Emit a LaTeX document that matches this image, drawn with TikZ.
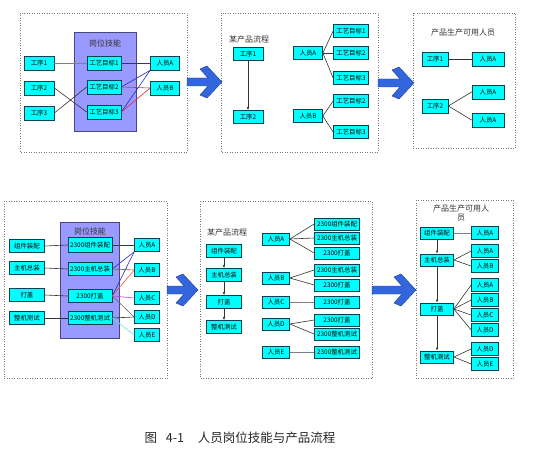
\documentclass[tikz,border=0pt]{standalone}
\usepackage{fontspec}
\setmainfont{Noto Sans CJK SC}
\usetikzlibrary{arrows.meta}
\definecolor{boxfill}{RGB}{0,255,255}
\definecolor{boxdraw}{RGB}{0,70,80}
\definecolor{skillfill}{RGB}{153,153,255}
\definecolor{skilldraw}{RGB}{70,70,130}
\definecolor{arrfill}{RGB}{51,102,221}
\definecolor{arrdraw}{RGB}{30,60,160}
\definecolor{lnblue}{RGB}{40,40,200}
\definecolor{lnred}{RGB}{220,40,60}
\definecolor{lnorange}{RGB}{230,90,60}
\definecolor{lnmag}{RGB}{210,60,210}
\definecolor{lncyan}{RGB}{100,230,230}
\definecolor{panelgray}{RGB}{120,120,120}
\tikzset{
  bx/.style 2 args={draw=boxdraw, fill=boxfill, line width=0.7pt, minimum width=#1pt, minimum height=#2pt, inner sep=0pt, font=\fontsize{6.4}{6.4}\selectfont},
  skill/.style 2 args={draw=skilldraw, fill=skillfill, line width=0.8pt, minimum width=#1pt, minimum height=#2pt, inner sep=0pt},
  panel/.style={draw=panelgray, dotted, line width=0.5pt},
  ttl/.style={font=\fontsize{8}{9}\selectfont, inner sep=0pt, align=center, text=black!80},
  ln/.style={line width=0.6pt, draw=black!80},
  gln/.style={line width=0.6pt, draw=black!50},
  flow/.style={line width=0.6pt, draw=black!80, -{Latex[length=3pt,width=2.5pt]}},
  bigarr/.pic={
    \path[fill=arrfill, draw=arrdraw, line width=0.4pt]
      (0,-4) -- ({#1-14},-4) -- ({#1-22},-13) -- ({#1-15},-16) -- (#1,0)
      -- ({#1-15},16) -- ({#1-22},13) -- ({#1-14},4) -- (0,4) -- cycle;
  }
}
\begin{document}
\begin{tikzpicture}[x=1pt,y=-1pt]
\useasboundingbox (0,0) rectangle (536,452);

% ================= TOP LEFT =================
\draw[panel] (20,13) rectangle (187,152);
\node[skill={62}{99}] (sk1) at (105,81.5) {};
\node[ttl] (sk1t) at (105,43) {岗位技能};
\node[bx={30}{14}] (t1) at (39,63) {工序1};
\node[bx={30}{14}] (t2) at (39,88) {工序2};
\node[bx={30}{14}] (t3) at (39,113) {工序3};
\node[bx={34}{14}] (g1) at (104,63) {工艺目标1};
\node[bx={34}{14}] (g2) at (104,87) {工艺目标2};
\node[bx={34}{14}] (g3) at (104,112) {工艺目标3};
\node[bx={29}{14}] (pA) at (165,63) {人员A};
\node[bx={29}{14}] (pB) at (165,88) {人员B};
\draw[gln] (t1.east) -- (g1.west);
\draw[ln] (t2.east) -- (g3.west);
\draw[ln] (t3.east) -- (g2.west);
\draw[line width=0.6pt, lnblue] (g1.east) -- (pA.west);
\draw[line width=0.6pt, lnblue] (g2.east) -- (pA.south west);
\draw[line width=0.6pt, lnblue] (g3.east) -- (pA.south west);
\draw[line width=0.6pt, lnred] (g2.east) -- (pB.west);
\draw[line width=0.6pt, lnred] (g3.east) -- (pB.west);

\pic at (187,82) {bigarr=35};

% ================= TOP MIDDLE =================
\draw[panel] (221,13) rectangle (378,152);
\node[ttl] (mt) at (249,39) {某产品流程};
\node[bx={30}{13}] (m1) at (248,54) {工序1};
\node[bx={30}{13}] (m2) at (248,117) {工序2};
\draw[flow] (m1) -- (m2);
\node[bx={29}{13}] (mA) at (308,53) {人员A};
\node[bx={35}{13}] (mA1) at (351,31) {工艺目标1};
\node[bx={35}{13}] (mA2) at (351,53) {工艺目标2};
\node[bx={35}{13}] (mA3) at (351,78) {工艺目标3};
\node[bx={29}{13}] (mB) at (308,116) {人员B};
\node[bx={35}{13}] (mB2) at (351,101) {工艺目标2};
\node[bx={35}{13}] (mB3) at (351,132) {工艺目标3};
\foreach \t in {mA1,mA2,mA3} \draw[ln] (mA.east) -- (\t.west);
\foreach \t in {mB2,mB3} \draw[ln] (mB.east) -- (\t.west);

\pic at (378,83) {bigarr=36};

% ================= TOP RIGHT =================
\draw[panel] (413,13) rectangle (515,148);
\node[ttl] (rt) at (463,32) {产品生产可用人员};
\node[bx={26}{14}] (r1) at (435,59) {工序1};
\node[bx={26}{14}] (r2) at (435,106) {工序2};
\node[bx={32}{14}] (rA1) at (488,59) {人员A};
\node[bx={32}{14}] (rA2) at (488,92) {人员A};
\node[bx={32}{14}] (rA3) at (488,120) {人员A};
\draw[ln] (r1.east) -- (rA1.west);
\draw[ln] (r2.east) -- (rA2.west);
\draw[ln] (r2.east) -- (rA3.west);

% ================= BOTTOM LEFT =================
\draw[panel] (4,201) rectangle (167,378);
\node[skill={59}{116}] (sk2) at (89.5,280) {};
\node[ttl] (sk2t) at (90,231) {岗位技能};
\node[bx={35}{13}] (bl1) at (27,246) {组件装配};
\node[bx={35}{13}] (bl2) at (27,268) {主机总装};
\node[bx={35}{13}] (bl3) at (27,295) {打盖};
\node[bx={35}{13}] (bl4) at (27,318) {整机测试};
\node[bx={44}{15}] (bs1) at (90,245) {2300组件装配};
\node[bx={44}{13}] (bs2) at (90,269) {2300主机总装};
\node[bx={44}{13}] (bs3) at (90,296) {2300打盖};
\node[bx={44}{13}] (bs4) at (90,318) {2300整机测试};
\node[bx={25}{13}] (bA) at (147,245) {人员A};
\node[bx={25}{13}] (bB) at (147,270) {人员B};
\node[bx={25}{13}] (bC) at (147,298) {人员C};
\node[bx={25}{13}] (bD) at (147,317) {人员D};
\node[bx={25}{13}] (bE) at (147,335) {人员E};
\draw[ln] (bl1.east) -- (bs1.west);
\draw[ln] (bl2.east) -- (bs2.west);
\draw[ln] (bl3.east) -- (bs3.west);
\draw[ln] (bl4.east) -- (bs4.west);
\draw[line width=0.6pt, lnblue] (bs1.east) -- (bA.west);
\draw[line width=0.6pt, lnblue] (bs2.east) -- (bA.south west);
\draw[line width=0.6pt, lnblue] (bs3.east) -- (bA.south west);
\draw[line width=0.6pt, lnred] (bs2.east) -- (bB.west);
\draw[line width=0.6pt, lnorange] (bs3.east) -- (bB.west);
\draw[line width=0.6pt, lnmag] (bs3.east) -- (bC.west);
\draw[line width=0.6pt, black!60] (bs3.east) -- (bD.west);
\draw[ln] (bs4.east) -- (bD.west);
\draw[line width=0.6pt, lncyan] (bs4.east) -- (bE.west);

\pic at (167,290) {bigarr=31};

% ================= BOTTOM MIDDLE =================
\draw[panel] (200,201) rectangle (372,378);
\node[ttl] (bmt) at (227,232) {某产品流程};
\node[bx={35}{13}] (bm1) at (224,251) {组件装配};
\node[bx={35}{13}] (bm2) at (224,275) {主机总装};
\node[bx={35}{13}] (bm3) at (224,302) {打盖};
\node[bx={35}{13}] (bm4) at (224,327) {整机测试};
\draw[flow] (bm1) -- (bm2);
\draw[flow] (bm2) -- (bm3);
\draw[flow] (bm3) -- (bm4);
\node[bx={27}{12}] (nA) at (276,239) {人员A};
\node[bx={27}{12}] (nB) at (276,278) {人员B};
\node[bx={27}{12}] (nC) at (276,302) {人员C};
\node[bx={27}{12}] (nD) at (276,324) {人员D};
\node[bx={27}{12}] (nE) at (276,352) {人员E};
\node[bx={45}{12}] (nA1) at (337,224) {2300组件装配};
\node[bx={45}{12}] (nA2) at (337,238) {2300主机总装};
\node[bx={45}{12}] (nA3) at (337,253) {2300打盖};
\node[bx={45}{12}] (nB1) at (337,270) {2300主机总装};
\node[bx={45}{12}] (nB2) at (337,285) {2300打盖};
\node[bx={45}{12}] (nC1) at (337,302) {2300打盖};
\node[bx={45}{12}] (nD1) at (337,320) {2300打盖};
\node[bx={45}{12}] (nD2) at (337,334) {2300整机测试};
\node[bx={45}{12}] (nE1) at (337,352) {2300整机测试};
\foreach \t in {nA1,nA2,nA3} \draw[ln] (nA.east) -- (\t.west);
\foreach \t in {nB1,nB2} \draw[ln] (nB.east) -- (\t.west);
\draw[gln] (nC.east) -- (nC1.west);
\foreach \t in {nD1,nD2} \draw[ln] (nD.east) -- (\t.west);
\draw[gln] (nE.east) -- (nE1.west);

\pic at (372,290) {bigarr=44};

% ================= BOTTOM RIGHT =================
\draw[panel] (416,200) rectangle (513,378);
\node[ttl, text width=60pt] (brt) at (461,213) {产品生产可用人\\员};
\node[bx={33}{12}] (br1) at (437,233) {组件装配};
\node[bx={33}{12}] (br2) at (437,260) {主机总装};
\node[bx={33}{12}] (br3) at (437,309) {打盖};
\node[bx={33}{12}] (br4) at (437,357) {整机测试};
\draw[flow] (br1) -- (br2);
\draw[flow] (br2) -- (br3);
\draw[flow] (br3) -- (br4);
\node[bx={27}{13}] (q1) at (485,233) {人员A};
\node[bx={27}{13}] (q2) at (485,251) {人员A};
\node[bx={27}{13}] (q3) at (485,266) {人员B};
\node[bx={27}{13}] (q4) at (485,285) {人员A};
\node[bx={27}{13}] (q5) at (485,300) {人员B};
\node[bx={27}{13}] (q6) at (485,315) {人员C};
\node[bx={27}{13}] (q7) at (485,330) {人员D};
\node[bx={27}{13}] (q8) at (485,349) {人员D};
\node[bx={27}{13}] (q9) at (485,364) {人员E};
\draw[gln] (br1.east) -- (q1.west);
\foreach \t in {q2,q3} \draw[ln] (br2.east) -- (\t.west);
\foreach \t in {q4,q5,q6,q7} \draw[ln] (br3.east) -- (\t.west);
\foreach \t in {q8,q9} \draw[ln] (br4.east) -- (\t.west);

% ================= CAPTION =================
\node[font=\fontsize{12.5}{13}\selectfont, inner sep=0pt, text=black!85] (cap) at (240,438) {图\hspace{0.7em}4-1\hspace{1.1em}人员岗位技能与产品流程};
\end{tikzpicture}
\end{document}
